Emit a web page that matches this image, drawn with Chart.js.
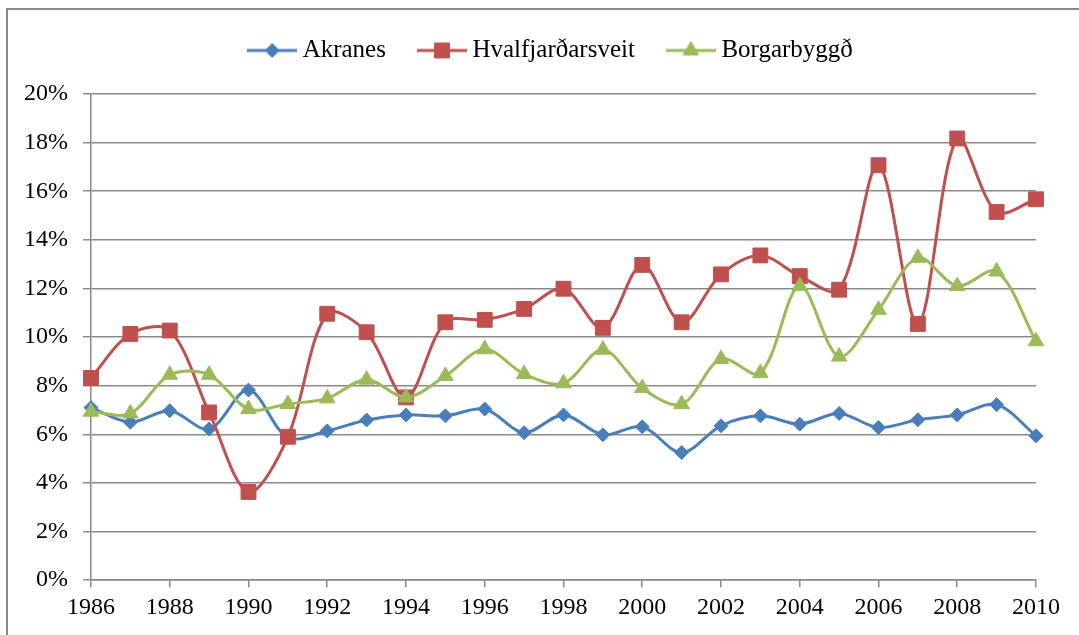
<!DOCTYPE html>
<html>
<head>
<meta charset="utf-8">
<script src="https://cdn.jsdelivr.net/npm/chart.js@4.4.1/dist/chart.umd.min.js"></script>
<style>
  html, body { margin: 0; padding: 0; background: #fff; }
  #wrap { width: 1079px; height: 635px; }
</style>
</head>
<body>
<div id="wrap"><canvas id="c" width="1079" height="635"></canvas></div>
<script>
// values (percent)
const years = [1986, 1987, 1988, 1989, 1990, 1991, 1992, 1993, 1994, 1995, 1996, 1997, 1998,
               1999, 2000, 2001, 2002, 2003, 2004, 2005, 2006, 2007, 2008, 2009, 2010];
const akranes = [7.1, 6.5, 6.97, 6.22, 7.82, 5.87, 6.14, 6.59, 6.8, 6.76, 7.04, 6.07, 6.8,
                 5.98, 6.31, 5.25, 6.35, 6.76, 6.42, 6.86, 6.28, 6.6, 6.8, 7.22, 5.94];
const hvalfjardarsveit = [8.32, 10.13, 10.27, 6.9, 3.63, 5.9, 10.96, 10.2, 7.52, 10.61, 10.71, 11.16, 11.99,
                          10.38, 12.97, 10.61, 12.58, 13.36, 12.51, 11.95, 17.07, 10.54, 18.17, 15.15, 15.67];
const borgarbyggd = [6.93, 6.86, 8.45, 8.45, 7.04, 7.25, 7.48, 8.25, 7.52, 8.4, 9.5, 8.48, 8.1,
                     9.48, 7.9, 7.24, 9.1, 8.52, 12.1, 9.2, 11.12, 13.26, 12.1, 12.7, 9.83];
const seriesNames = ['Akranes', 'Hvalfjarðarsveit', 'Borgarbyggð'];
const seriesColors = ['#4A7EBB', '#C0504D', '#9BBB59'];
const seriesMarkers = ['rectRot', 'rect', 'triangle'];
const markerRadius = [7, 10.5, 9];

Chart.defaults.font.family = "'Liberation Serif', 'Times New Roman', serif";
Chart.defaults.font.size = 24;
Chart.defaults.color = '#000';

const toPoints = vals => years.map((yr, i) => ({ x: yr, y: vals[i] }));

// little line + marker picture for each legend entry
function legendSwatch(i) {
  const cv = document.createElement('canvas');
  cv.width = 50; cv.height = 22;
  const g = cv.getContext('2d');
  g.strokeStyle = seriesColors[i];
  g.lineWidth = 3;
  g.beginPath(); g.moveTo(0, 11); g.lineTo(50, 11); g.stroke();
  g.fillStyle = seriesColors[i];
  g.lineWidth = 1;
  Chart.helpers.drawPoint(g, { pointStyle: seriesMarkers[i], radius: markerRadius[i], rotation: 0, borderWidth: 1 }, 25, 11);
  return cv;
}
const swatches = seriesNames.map((n, i) => legendSwatch(i));

const frame = {
  id: 'frame',
  beforeDraw(chart) {
    const c = chart.ctx;
    c.save();
    c.strokeStyle = '#8a8a8a';
    c.lineWidth = 2;
    c.strokeRect(7, 9, 1200, 800);
    c.restore();
  }
};

// legend: leave room under it, and nudge it a bit to the left like the original
const legendRoom = {
  id: 'legendRoom',
  beforeInit(chart) {
    const lg = chart.legend;
    const fit = lg.fit;
    lg.fit = function () { fit.call(this); this.height = 94; };
  },
  afterLayout(chart) {
    chart.legend.left -= 10;
    chart.legend.right -= 10;
  }
};

const makeSet = (i, vals, order) => ({
  label: seriesNames[i],
  data: toPoints(vals),
  borderColor: seriesColors[i],
  backgroundColor: seriesColors[i],
  borderWidth: 3,
  pointStyle: seriesMarkers[i],
  pointRadius: markerRadius[i],
  pointHoverRadius: markerRadius[i],
  pointBorderWidth: 1,
  tension: 0.33,
  clip: false,
  order: order
});

new Chart(document.getElementById('c'), {
  type: 'line',
  data: {
    datasets: [
      makeSet(0, akranes, 3),
      makeSet(1, hvalfjardarsveit, 2),
      makeSet(2, borgarbyggd, 1)
    ]
  },
  options: {
    responsive: false,
    animation: false,
    layout: { padding: { left: 9, right: 43, top: 0, bottom: 7 } },
    plugins: {
      tooltip: { enabled: false },
      legend: {
        position: 'top',
        fullSize: false,
        labels: {
          usePointStyle: true,
          pointStyleWidth: 36,
          padding: 38,
          font: { size: 25 },
          generateLabels: chart => chart.data.datasets.map((ds, i) => ({
            text: ds.label,
            pointStyle: swatches[i],
            fillStyle: seriesColors[i],
            strokeStyle: seriesColors[i],
            fontColor: '#000',
            lineWidth: 0,
            hidden: false,
            datasetIndex: i
          }))
        }
      }
    },
    scales: {
      x: {
        type: 'linear',
        min: 1986,
        max: 2010,
        ticks: { stepSize: 2, maxRotation: 0, padding: 6, callback: v => String(v) },
        grid: { drawOnChartArea: false, drawTicks: true, tickLength: 7, color: '#8a8a8a', lineWidth: 1.5 },
        border: { display: true, color: '#8a8a8a', width: 1.5 }
      },
      y: {
        min: 0,
        max: 20,
        ticks: { stepSize: 2, padding: 15, callback: v => v + '%' },
        grid: { color: '#8a8a8a', lineWidth: 1.5, tickLength: 8 },
        border: { display: true, color: '#8a8a8a', width: 1.5 }
      }
    }
  },
  plugins: [frame, legendRoom]
});
</script>
</body>
</html>
